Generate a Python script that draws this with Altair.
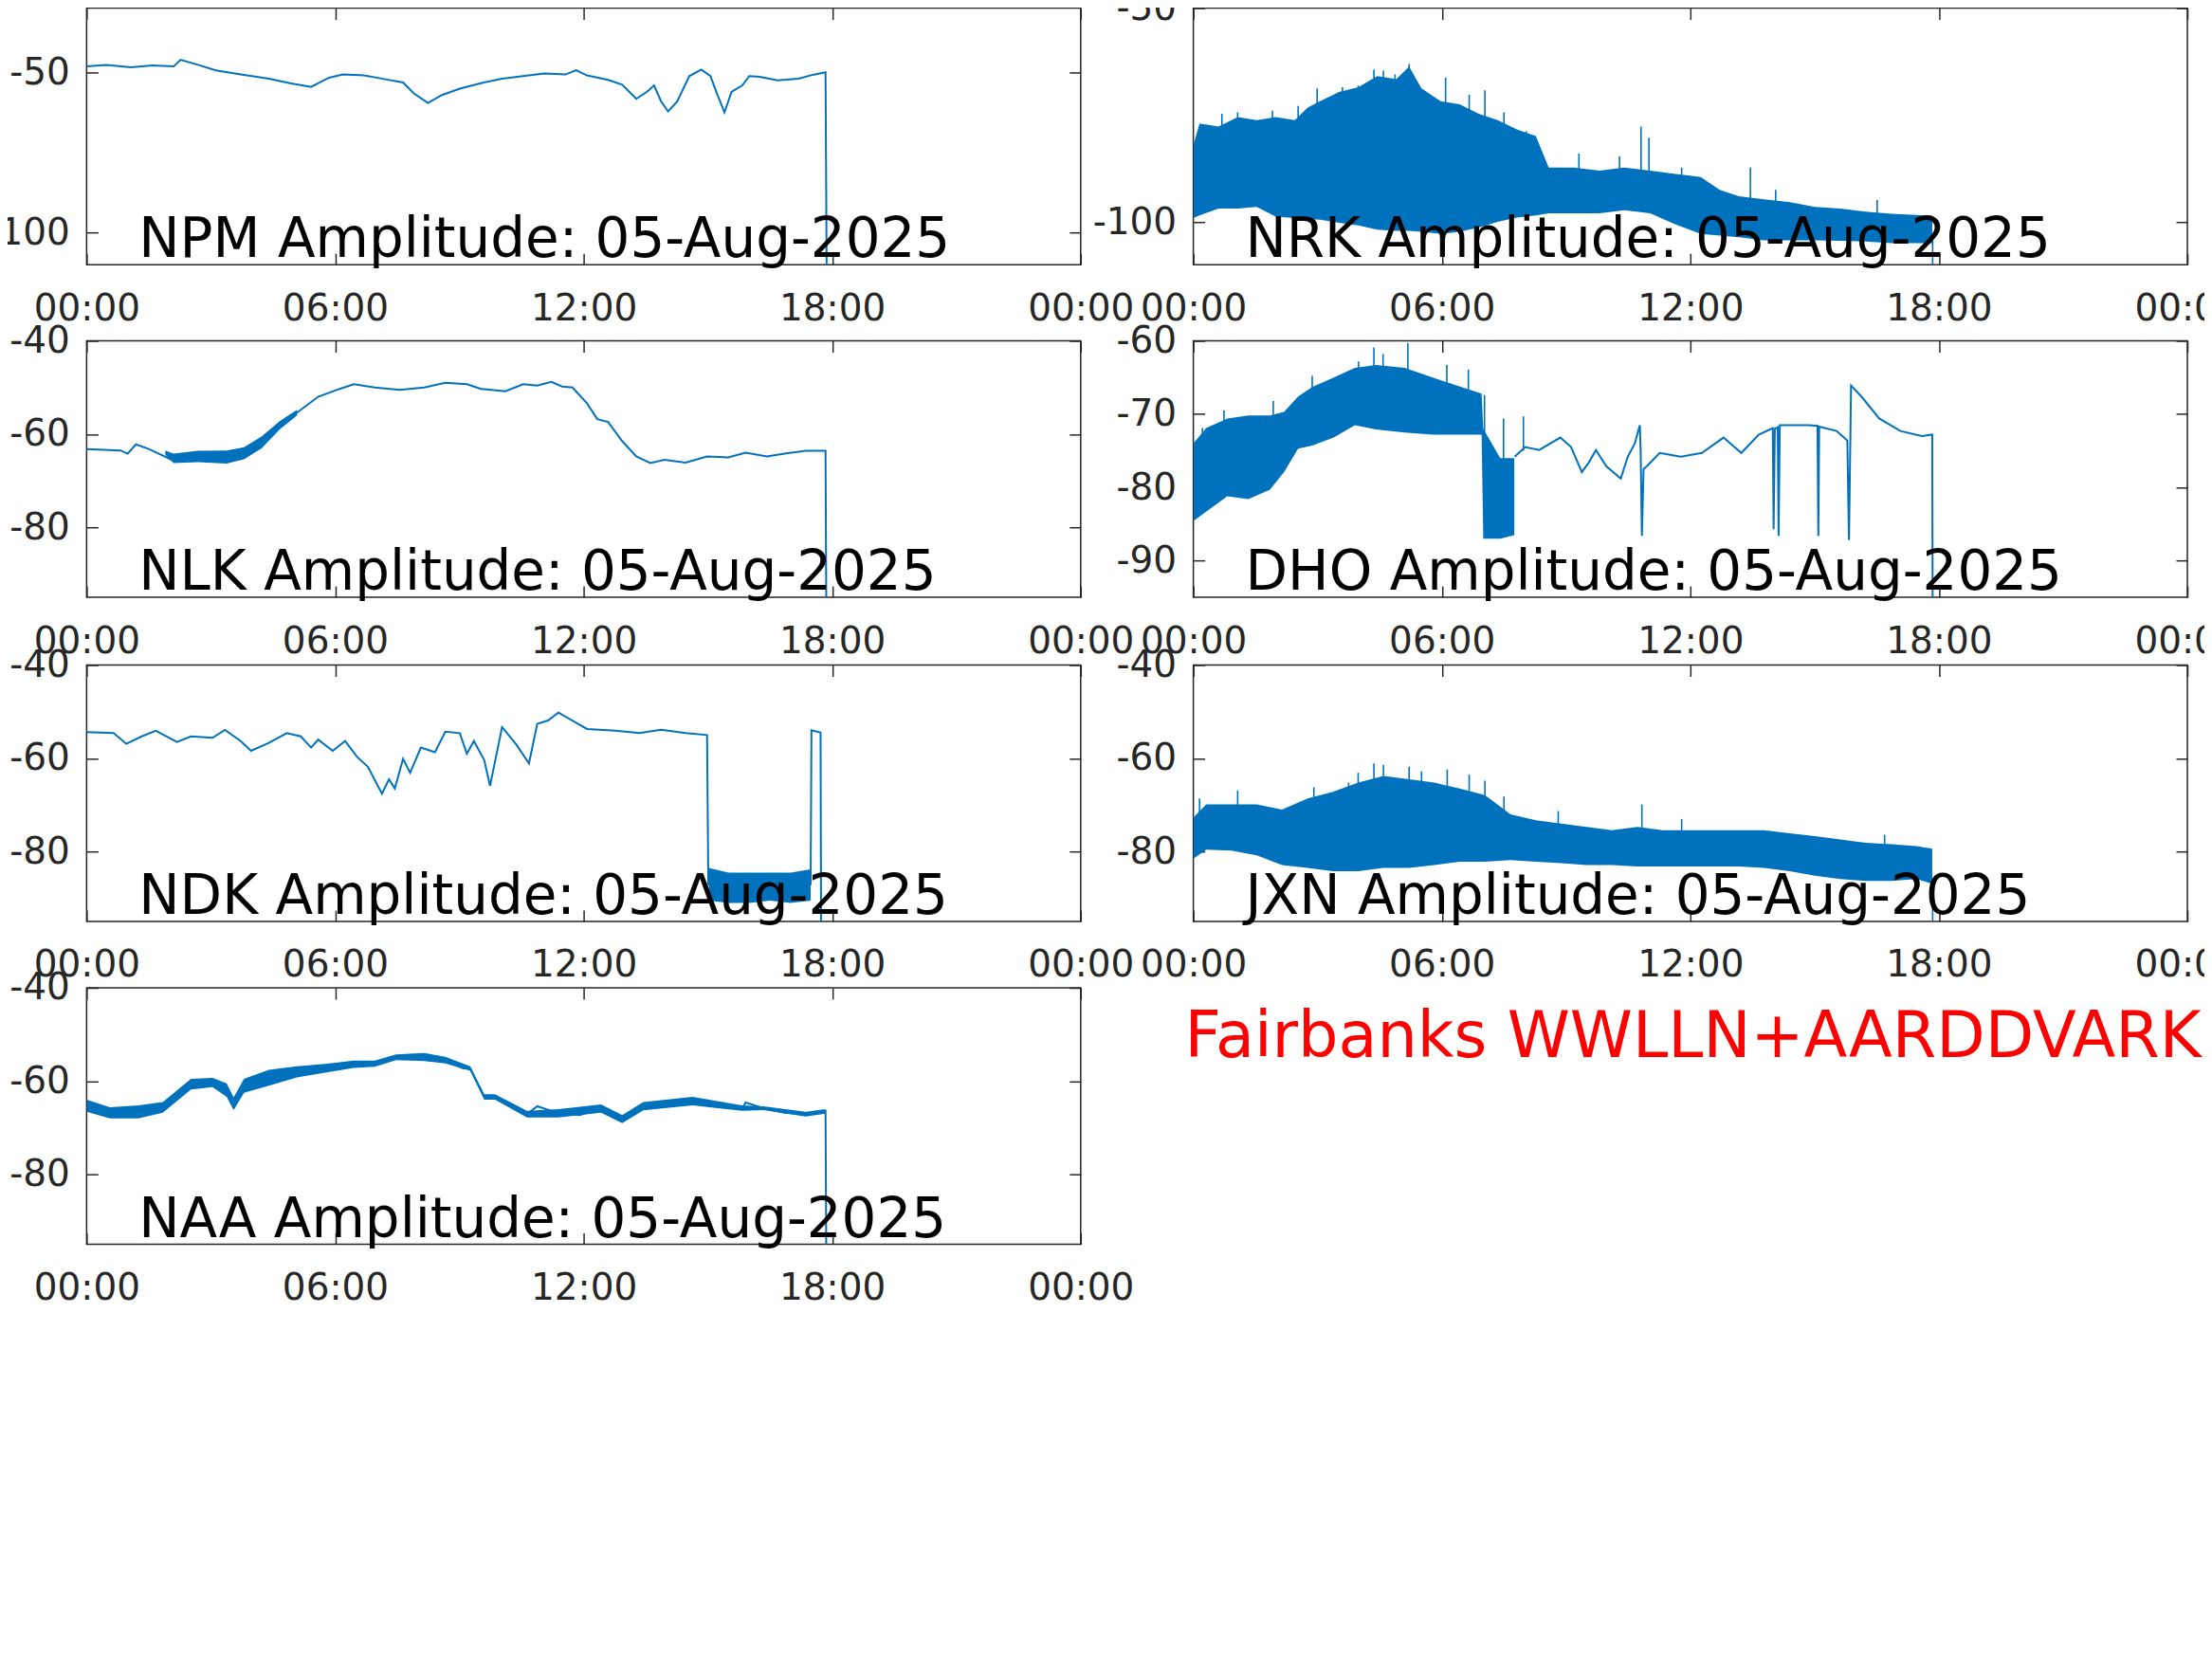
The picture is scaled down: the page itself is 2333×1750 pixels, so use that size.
import altair as alt
import pandas as pd

BLUE = "#0072BD"
AXIS_COLOR = "#262626"
FONT = "DejaVu Sans"

DATE_LABEL = "05-Aug-2025"
SITE_LABEL = "Fairbanks WWLLN+AARDDVARK"
X_TICKS = [0, 6, 12, 18, 24]
X_TICK_LABELS = ["00:00", "06:00", "12:00", "18:00", "00:00"]

# ---------------- NPM ----------------
NPM_YDOMAIN = [-110, -30]
NPM_YTICKS = [-100, -50]
NPM_HOURS = [0.00, 0.48, 1.07, 1.59, 2.10, 2.27, 2.69, 3.12, 3.72, 4.40, 4.91, 5.42, 5.85, 6.19,
             6.70, 7.21, 7.64, 7.90, 8.24, 8.58, 9.01, 9.52, 10.03, 10.54, 11.05, 11.56, 11.82,
             12.08, 12.59, 12.93, 13.27, 13.53, 13.70, 13.87, 14.04, 14.26, 14.55, 14.84, 15.06,
             15.23, 15.40, 15.57, 15.83, 16.00, 16.25, 16.68, 17.19, 17.53, 17.84, 17.87]
NPM_DBM = [-48.2, -47.7, -48.5, -47.9, -48.2, -46.1, -47.7, -49.4, -50.7, -52.0, -53.4, -54.6,
           -51.7, -50.7, -51.0, -52.2, -53.2, -56.6, -59.6, -57.1, -55.1, -53.4, -52.0, -51.2,
           -50.4, -50.7, -49.4, -51.0, -52.4, -53.9, -58.3, -56.1, -54.1, -59.1, -62.2, -59.1,
           -51.2, -49.2, -51.2, -57.1, -62.5, -56.1, -54.1, -51.2, -51.4, -52.5, -52.0, -50.8,
           -50.0, -120.0]

# ---------------- NRK ----------------
NRK_YDOMAIN = [-110, -50]
NRK_YTICKS = [-100, -50]
NRK_BAND_HOURS = [0.00, 0.15, 0.61, 1.07, 1.53, 1.99, 2.45, 2.76, 3.06, 3.52, 3.98, 4.44, 4.90,
                  5.21, 5.51, 5.97, 6.43, 6.89, 7.35, 7.81, 8.27, 8.58, 9.19, 9.80, 10.41, 11.03,
                  11.64, 12.25, 12.71, 13.17, 13.78, 14.40, 15.01, 15.62, 16.23, 16.85, 17.46,
                  17.84]
NRK_BAND_HIGH = [-82.1, -77.0, -77.7, -75.5, -76.2, -75.5, -76.2, -73.3, -71.8, -69.6, -68.5,
                 -65.9, -66.6, -63.7, -68.8, -71.8, -72.5, -74.7, -76.2, -78.4, -79.9, -87.3,
                 -87.3, -88.0, -87.3, -88.0, -88.8, -89.5, -92.5, -94.0, -94.7, -95.4, -96.5,
                 -96.9, -97.6, -98.1, -98.4, -98.6]
NRK_BAND_LOW = [-99.1, -98.5, -96.9, -96.9, -96.5, -98.8, -99.1, -99.3, -99.5, -100.2, -100.8,
                -101.8, -102.1, -102.1, -102.3, -102.8, -102.3, -101.3, -100.0, -99.0, -98.5,
                -98.0, -98.0, -98.0, -97.3, -98.0, -100.6, -102.8, -103.2, -103.6, -104.3,
                -104.3, -104.3, -104.4, -104.6, -105.0, -105.0, -105.0]
NRK_SPIKE_HOURS = [0.69, 1.07, 1.91, 2.53, 2.99, 3.60, 3.98, 4.36, 4.59, 4.87, 5.21, 6.09, 6.66,
                   7.04, 7.50, 8.04, 9.31, 10.29, 10.81, 11.00, 11.79, 13.45, 14.06, 16.51, 17.85]
NRK_SPIKE_TOP = [-74.7, -74.4, -74.0, -72.9, -68.8, -68.5, -68.1, -64.4, -64.6, -65.5, -63.1,
                 -66.3, -70.3, -69.2, -74.4, -78.8, -84.0, -84.7, -77.7, -80.3, -87.3, -87.3,
                 -92.5, -94.9, -104.0]
NRK_SPIKE_BASE = [-80, -80, -80, -78, -75, -74, -72, -70, -70, -70, -68, -74, -76, -78, -80,
                  -83, -90, -90, -90, -90, -91, -95, -97, -99, -130]

# ---------------- NLK ----------------
NLK_YDOMAIN = [-95, -40]
NLK_YTICKS = [-80, -60, -40]
NLK_HOURS = [0.00, 0.82, 0.99, 1.19, 1.50, 2.10, 2.69, 3.38, 3.80, 4.23, 4.66, 5.08, 5.59, 6.11,
             6.45, 6.96, 7.56, 8.15, 8.66, 9.18, 9.52, 10.11, 10.54, 10.88, 11.22, 11.48, 11.73,
             12.08, 12.33, 12.59, 12.93, 13.27, 13.61, 13.95, 14.46, 14.98, 15.49, 15.91, 16.43,
             16.85, 17.36, 17.84, 17.87]
NLK_DBM = [-63.2, -63.5, -64.2, -62.2, -63.2, -65.7, -64.8, -65.2, -64.2, -61.5, -58.1, -55.4,
           -52.0, -50.3, -49.3, -50.0, -50.5, -50.0, -49.0, -49.3, -50.3, -50.8, -49.3, -49.6,
           -48.8, -49.8, -50.0, -53.4, -56.8, -57.4, -61.5, -64.8, -66.2, -65.5, -66.1, -64.8,
           -65.0, -64.0, -64.8, -64.2, -63.6, -63.6, -120.0]
NLK_BAND_HOURS = [1.90, 2.10, 2.69, 3.38, 3.80, 4.23, 4.66, 5.08]
NLK_BAND_HIGH = [-63.5, -64.2, -63.6, -63.5, -62.8, -60.5, -57.2, -54.8]
NLK_BAND_LOW = [-64.5, -66.2, -66.0, -66.3, -65.4, -63.0, -59.0, -56.0]

# ---------------- DHO ----------------
DHO_YDOMAIN = [-95, -60]
DHO_YTICKS = [-90, -80, -70, -60]
DHO_BAND_HOURS = [0.00, 0.31, 0.82, 1.33, 1.85, 2.19, 2.53, 2.87, 3.39, 3.90, 4.41, 5.10, 5.78,
                  6.47, 6.96, 7.00, 7.41, 7.75]
DHO_BAND_HIGH = [-74.0, -71.9, -70.6, -70.2, -70.2, -69.7, -67.6, -66.3, -65.0, -63.7, -63.3,
                 -63.7, -65.0, -66.3, -67.2, -72.0, -76.0, -76.0]
DHO_BAND_LOW = [-84.6, -83.3, -81.2, -81.6, -80.3, -77.9, -74.7, -74.3, -73.2, -71.5, -72.1,
                -72.5, -72.8, -72.8, -72.8, -87.0, -87.0, -86.5]
DHO_HOURS = [7.76, 8.01, 8.35, 8.86, 9.12, 9.38, 9.55, 9.72, 9.97, 10.32, 10.49, 10.66, 10.78,
             10.80, 10.83, 10.87, 10.95, 11.26, 11.77, 12.28, 12.80, 13.23, 13.65, 13.99, 14.01,
             14.04, 14.11, 14.13, 14.16, 14.85, 15.07, 15.09, 15.11, 15.53, 15.79, 15.83, 15.88,
             16.13, 16.56, 17.07, 17.59, 17.84, 17.86]
DHO_DBM = [-75.8, -74.5, -74.9, -73.2, -74.5, -77.9, -76.6, -74.9, -77.1, -78.8, -75.8, -74.0,
           -71.5, -75.0, -86.6, -77.5, -77.1, -75.3, -75.8, -75.3, -73.2, -75.3, -72.8, -71.9,
           -85.7, -72.0, -71.8, -86.6, -71.5, -71.5, -71.6, -86.6, -71.7, -72.3, -73.6, -87.2,
           -66.1, -67.6, -70.6, -72.3, -73.0, -72.8, -120.0]
DHO_SPIKE_HOURS = [0.22, 0.74, 1.93, 2.87, 3.99, 4.36, 4.58, 5.18, 6.12, 6.64, 7.03, 7.49, 7.97]
DHO_SPIKE_TOP = [-71.9, -69.5, -68.2, -64.8, -62.8, -60.9, -61.8, -60.3, -63.3, -63.9, -67.4,
                 -70.6, -70.3]
DHO_SPIKE_BASE = [-78, -76, -75, -70, -68, -67, -67, -67, -69, -69, -75, -80, -75]

# ---------------- NDK ----------------
NDK_YDOMAIN = [-95, -40]
NDK_YTICKS = [-80, -60, -40]
NDK_HOURS = [0.00, 0.65, 0.96, 1.33, 1.67, 2.18, 2.52, 3.04, 3.34, 3.72, 3.97, 4.40, 4.83, 5.17,
             5.42, 5.59, 5.94, 6.24, 6.53, 6.79, 7.13, 7.30, 7.44, 7.64, 7.81, 8.07, 8.41, 8.66,
             9.01, 9.18, 9.35, 9.60, 9.74, 10.03, 10.37, 10.68, 10.88, 11.14, 11.39, 12.08,
             12.76, 13.35, 13.87, 14.46, 14.98, 15.01, 17.48, 17.50, 17.72, 17.74]
NDK_DBM = [-54.4, -54.6, -56.9, -55.3, -54.1, -56.5, -55.3, -55.6, -53.9, -56.3, -58.4, -56.7,
           -54.6, -55.3, -57.7, -56.0, -58.4, -56.3, -59.7, -61.8, -67.6, -64.5, -66.5, -60.1,
           -63.1, -57.7, -58.7, -54.3, -54.6, -59.0, -56.3, -60.4, -65.9, -53.3, -57.0, -61.1,
           -52.6, -51.9, -50.2, -53.7, -54.1, -54.6, -53.9, -54.6, -55.0, -87.0, -87.0, -54.0,
           -54.5, -120.0]
NDK_BAND_HOURS = [15.02, 15.50, 16.00, 16.50, 17.00, 17.48]
NDK_BAND_HIGH = [-83.5, -84.5, -84.5, -84.5, -84.5, -83.8]
NDK_BAND_LOW = [-90.5, -91.0, -91.0, -90.5, -91.0, -90.5]

# ---------------- JXN ----------------
JXN_YDOMAIN = [-95, -40]
JXN_YTICKS = [-80, -60, -40]
JXN_BAND_HOURS = [0.00, 0.31, 0.92, 1.53, 2.14, 2.76, 3.37, 3.98, 4.59, 5.21, 5.82, 6.43, 7.04,
                  7.66, 8.27, 8.88, 9.49, 10.11, 10.72, 11.33, 11.94, 12.56, 13.17, 13.78, 14.40,
                  15.01, 15.62, 16.23, 16.85, 17.46, 17.84]
JXN_BAND_HIGH = [-72.7, -69.9, -69.9, -69.9, -71.0, -68.6, -67.2, -65.2, -63.8, -64.5, -65.2,
                 -66.5, -67.9, -72.0, -73.3, -74.0, -74.7, -75.4, -74.7, -75.4, -75.4, -75.4,
                 -75.4, -75.4, -76.1, -76.7, -77.4, -78.1, -78.4, -78.8, -79.4]
JXN_BAND_LOW = [-81.5, -79.6, -79.8, -80.8, -82.9, -83.5, -84.2, -84.2, -83.5, -83.5, -82.9,
                -82.2, -82.2, -81.8, -82.2, -82.5, -82.9, -82.9, -83.2, -83.2, -83.2, -83.2,
                -83.2, -83.5, -84.2, -85.2, -85.9, -86.3, -86.3, -85.9, -86.9]
JXN_SPIKE_HOURS = [0.15, 1.07, 2.91, 3.75, 3.98, 4.36, 4.59, 5.21, 5.51, 6.13, 6.66, 7.04, 7.50,
                   8.81, 10.83, 11.79, 16.69, 17.85]
JXN_SPIKE_TOP = [-68.6, -66.9, -66.2, -65.2, -63.1, -61.1, -61.4, -61.8, -62.8, -62.4, -63.5,
                 -64.8, -68.2, -71.3, -69.9, -73.0, -76.4, -86.0]
JXN_SPIKE_BASE = [-74, -73, -72, -70, -70, -70, -70, -70, -70, -71, -72, -73, -75, -77, -78,
                  -78, -81, -130]

# ---------------- NAA ----------------
NAA_YDOMAIN = [-95, -40]
NAA_YTICKS = [-80, -60, -40]
NAA_HOURS = [0.00, 0.56, 1.25, 1.84, 2.52, 3.04, 3.38, 3.55, 3.80, 4.40, 5.08, 5.76, 6.45, 6.96,
             7.47, 7.81, 8.15, 8.66, 9.09, 9.26, 9.60, 9.86, 10.20, 10.63, 10.88, 11.39, 11.91,
             12.42, 12.93, 13.44, 13.95, 14.63, 15.15, 15.83, 15.91, 16.34, 16.85, 17.36, 17.84,
             17.87]
NAA_DBM = [-65.4, -67.1, -66.9, -65.8, -60.7, -60.3, -62.0, -65.1, -60.7, -59.0, -58.0, -57.2,
           -56.3, -56.3, -54.9, -54.4, -54.9, -55.6, -57.3, -57.3, -63.4, -63.4, -64.7, -67.1,
           -65.4, -66.9, -67.3, -65.8, -68.1, -65.3, -64.6, -64.2, -65.4, -65.8, -64.6, -65.8,
           -66.8, -67.1, -66.4, -120.0]
NAA_BAND_HOURS = [0.00, 0.56, 1.25, 1.84, 2.52, 3.04, 3.38, 3.55, 3.80, 4.40, 5.08, 5.76, 6.45,
                  6.96, 7.47, 8.15, 8.66, 9.26, 9.60, 9.86, 10.63, 11.39, 12.42, 12.93, 13.44,
                  14.63, 15.83, 16.34, 17.36, 17.84]
NAA_BAND_HIGH = [-64.0, -65.6, -65.2, -64.5, -59.5, -59.3, -60.5, -63.5, -59.5, -57.6, -56.8,
                 -56.3, -55.6, -55.6, -54.3, -54.0, -54.8, -56.8, -62.8, -62.8, -66.4, -66.0,
                 -65.0, -67.3, -64.5, -63.4, -65.2, -65.4, -66.6, -66.0]
NAA_BAND_LOW = [-66.6, -68.0, -68.0, -66.8, -61.8, -61.3, -63.4, -66.2, -62.5, -61.0, -59.2,
                -58.2, -57.2, -56.9, -55.5, -55.7, -56.2, -57.8, -64.0, -64.0, -67.8, -67.8,
                -66.8, -69.0, -66.3, -65.2, -66.4, -66.2, -67.6, -67.0]

PANEL_W = 1050
PANEL_H = 271
TICK_LEN = 12

x_label_expr = " : ".join(
    f"datum.value == {v} ? '{lab}'" for v, lab in zip(X_TICKS, X_TICK_LABELS)
) + " : ''"


def make_panel(station, ydomain, yticks, line=None, band=None, spikes=None):
    xs = alt.Scale(domain=[X_TICKS[0], X_TICKS[-1]], nice=False, zero=False)
    ys = alt.Scale(domain=ydomain, nice=False, zero=False)
    frame = pd.DataFrame({"h": [X_TICKS[0], X_TICKS[-1]], "v": ydomain})

    def host(xaxis, yaxis):
        return alt.Chart(frame).mark_point(opacity=0).encode(
            x=alt.X("h:Q", scale=xs, axis=xaxis),
            y=alt.Y("v:Q", scale=ys, axis=yaxis),
        )

    main_x = alt.Axis(values=X_TICKS, labelExpr=x_label_expr, ticks=False, domain=False,
                      grid=False, labelFontSize=39, labelFont=FONT, labelColor=AXIS_COLOR,
                      labelPadding=27, labelFlush=False, labelOverlap=False, title=None)
    main_y = alt.Axis(values=yticks, labelExpr="'' + datum.value", ticks=False, domain=False,
                      grid=False, labelFontSize=39, labelFont=FONT, labelColor=AXIS_COLOR,
                      labelPadding=18, labelOverlap=False, title=None)

    def tick_axis(orient, vals):
        return alt.Axis(orient=orient, values=vals, labels=False, domain=False, grid=False,
                        ticks=True, tickSize=TICK_LEN, tickWidth=1.5, tickColor=AXIS_COLOR,
                        offset=-TICK_LEN, title=None)

    layers = [
        host(main_x, main_y),
        host(tick_axis("bottom", X_TICKS), tick_axis("left", yticks)),
        host(tick_axis("top", X_TICKS), tick_axis("right", yticks)),
    ]

    if band is not None:
        bh, blo, bhi = band
        bdf = pd.DataFrame({"h": bh, "lo": blo, "hi": bhi})
        layers.append(
            alt.Chart(bdf).mark_area(color=BLUE, clip=True, opacity=1).encode(
                x=alt.X("h:Q", scale=xs, axis=None),
                y=alt.Y("lo:Q", scale=ys, axis=None),
                y2="hi:Q",
            )
        )
    if spikes is not None:
        sh, stop, sbase = spikes
        sdf = pd.DataFrame({"h": sh, "top": stop, "base": sbase})
        layers.append(
            alt.Chart(sdf).mark_rule(color=BLUE, strokeWidth=1.6, clip=True).encode(
                x=alt.X("h:Q", scale=xs, axis=None),
                y=alt.Y("top:Q", scale=ys, axis=None),
                y2="base:Q",
            )
        )
    if line is not None:
        lh, lv = line
        ldf = pd.DataFrame({"h": lh, "v": lv})
        layers.append(
            alt.Chart(ldf).mark_line(color=BLUE, strokeWidth=2, clip=True).encode(
                x=alt.X("h:Q", scale=xs, axis=None),
                y=alt.Y("v:Q", scale=ys, axis=None),
            )
        )

    tdf = pd.DataFrame({"t": [f"{station} Amplitude: {DATE_LABEL}"]})
    layers.append(
        alt.Chart(tdf).mark_text(align="left", baseline="alphabetic", fontSize=58, font=FONT,
                                 color="black").encode(
            x=alt.value(55), y=alt.value(PANEL_H - 8), text="t:N")
    )
    return alt.layer(*layers).resolve_axis(x="independent", y="independent").properties(
        width=PANEL_W, height=PANEL_H)


npm = make_panel("NPM", NPM_YDOMAIN, NPM_YTICKS, line=(NPM_HOURS, NPM_DBM))
nrk = make_panel("NRK", NRK_YDOMAIN, NRK_YTICKS,
                 band=(NRK_BAND_HOURS, NRK_BAND_LOW, NRK_BAND_HIGH),
                 spikes=(NRK_SPIKE_HOURS, NRK_SPIKE_TOP, NRK_SPIKE_BASE))
nlk = make_panel("NLK", NLK_YDOMAIN, NLK_YTICKS, line=(NLK_HOURS, NLK_DBM),
                 band=(NLK_BAND_HOURS, NLK_BAND_LOW, NLK_BAND_HIGH))
dho = make_panel("DHO", DHO_YDOMAIN, DHO_YTICKS, line=(DHO_HOURS, DHO_DBM),
                 band=(DHO_BAND_HOURS, DHO_BAND_LOW, DHO_BAND_HIGH),
                 spikes=(DHO_SPIKE_HOURS, DHO_SPIKE_TOP, DHO_SPIKE_BASE))
ndk = make_panel("NDK", NDK_YDOMAIN, NDK_YTICKS, line=(NDK_HOURS, NDK_DBM),
                 band=(NDK_BAND_HOURS, NDK_BAND_LOW, NDK_BAND_HIGH))
jxn = make_panel("JXN", JXN_YDOMAIN, JXN_YTICKS,
                 band=(JXN_BAND_HOURS, JXN_BAND_LOW, JXN_BAND_HIGH),
                 spikes=(JXN_SPIKE_HOURS, JXN_SPIKE_TOP, JXN_SPIKE_BASE))
naa = make_panel("NAA", NAA_YDOMAIN, NAA_YTICKS, line=(NAA_HOURS, NAA_DBM),
                 band=(NAA_BAND_HOURS, NAA_BAND_LOW, NAA_BAND_HIGH))

site = alt.Chart(pd.DataFrame({"t": [SITE_LABEL]})).mark_text(
    align="left", baseline="alphabetic", fontSize=67, font=FONT, color="#FF0000"
).encode(x=alt.value(-9), y=alt.value(73), text="t:N").properties(
    width=PANEL_W, height=PANEL_H, view=alt.ViewBackground(stroke="transparent"))

COL_GAP = 119
row1 = alt.hconcat(npm, nrk, spacing=COL_GAP, bounds="flush")
row2 = alt.hconcat(nlk, dho, spacing=COL_GAP, bounds="flush")
row3 = alt.hconcat(ndk, jxn, spacing=COL_GAP, bounds="flush")
row4 = alt.hconcat(naa, site, spacing=COL_GAP, bounds="flush")
lower = alt.vconcat(row2, alt.vconcat(row3, row4, spacing=-17), spacing=-15.5)
chart = alt.vconcat(row1, lower, spacing=-6.5).properties(
    padding={"left": -24.5, "top": -20.5, "right": -39, "bottom": 10}
).configure_view(stroke=AXIS_COLOR, strokeWidth=1.5)

chart.save("out.html", embed_options={"renderer": "svg", "actions": False})
